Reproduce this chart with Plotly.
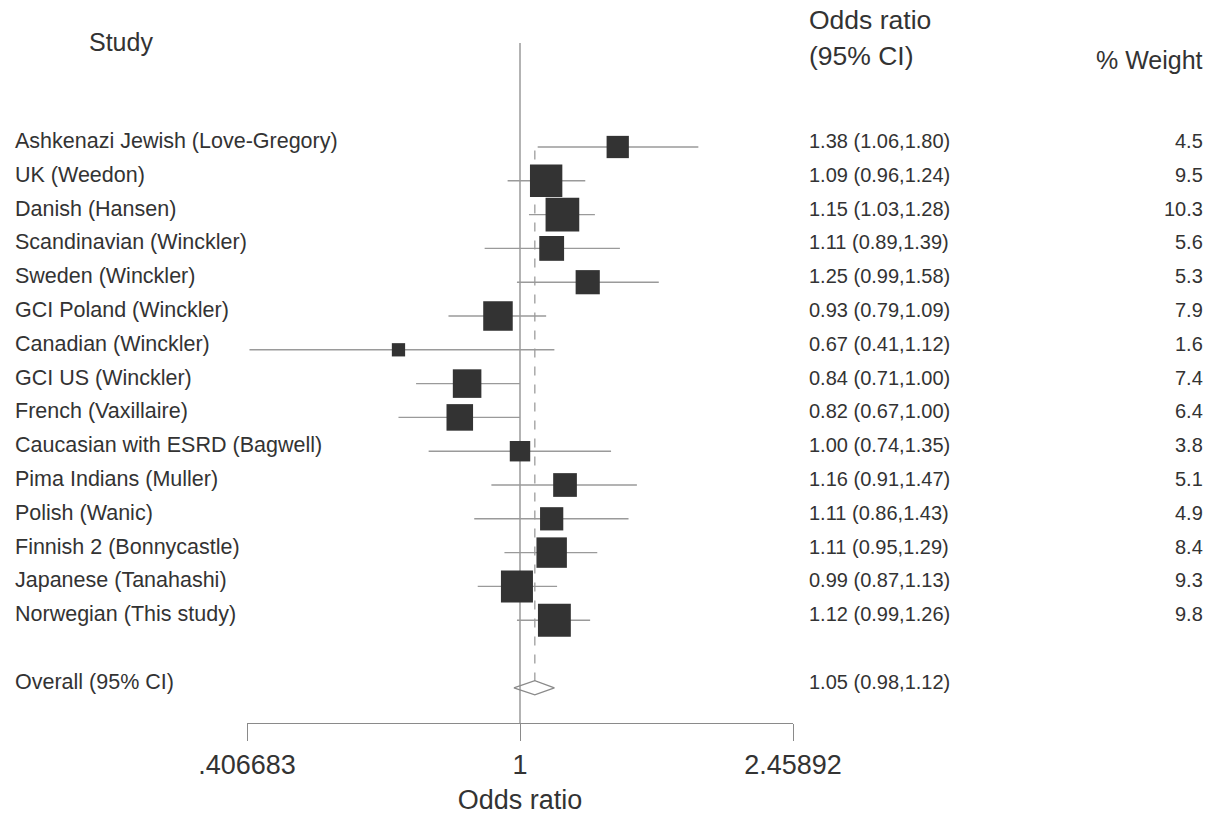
import math
import plotly.graph_objects as go

# ---------------- data ----------------
studies = [
    "Ashkenazi Jewish (Love-Gregory)", "UK (Weedon)", "Danish (Hansen)",
    "Scandinavian (Winckler)", "Sweden (Winckler)", "GCI Poland (Winckler)",
    "Canadian (Winckler)", "GCI US (Winckler)", "French (Vaxillaire)",
    "Caucasian with ESRD (Bagwell)", "Pima Indians (Muller)", "Polish (Wanic)",
    "Finnish 2 (Bonnycastle)", "Japanese (Tanahashi)", "Norwegian (This study)",
]
odds = [1.38, 1.09, 1.15, 1.11, 1.25, 0.93, 0.67, 0.84, 0.82, 1.00, 1.16, 1.11, 1.11, 0.99, 1.12]
ci_low = [1.06, 0.96, 1.03, 0.89, 0.99, 0.79, 0.41, 0.71, 0.67, 0.74, 0.91, 0.86, 0.95, 0.87, 0.99]
ci_high = [1.80, 1.24, 1.28, 1.39, 1.58, 1.09, 1.12, 1.00, 1.00, 1.35, 1.47, 1.43, 1.29, 1.13, 1.26]
weights = [4.5, 9.5, 10.3, 5.6, 5.3, 7.9, 1.6, 7.4, 6.4, 3.8, 5.1, 4.9, 8.4, 9.3, 9.8]
overall_label = "Overall (95% CI)"
overall = [1.05, 0.98, 1.12]  # estimate, low, high
x_min, x_max = 0.406683, 2.45892
tick_vals = [0.406683, 1, 2.45892]
tick_text = [".406683", "1", "2.45892"]

# ---------------- layout geometry ----------------
W, H = 1219, 815
PL, PR, PT, PB = 247, 793, 43, 723      # plot area pixels
ROW0, STEP = 147, 33.8                   # pixel y of row 1 and row spacing


def row_of(py):
    return 1 + (py - ROW0) / STEP


def px_x(px):
    return (px - PL) / (PR - PL)


def px_y(py):
    return (PB - py) / (PB - PT)


rows = list(range(1, len(studies) + 1))
overall_row = len(studies) + 2
y_top, y_bot = row_of(PT), row_of(PB)

FONT = "Liberation Sans, Arial, sans-serif"
TXT = "#333333"
GRAY = "#9a9a9a"

fig = go.Figure()

# reference line at 1
fig.add_trace(go.Scatter(x=[1, 1], y=[y_top, y_bot], mode="lines",
                         line=dict(color="#8a8a8a", width=1.3),
                         hoverinfo="skip", showlegend=False))
# dashed line at overall estimate
fig.add_trace(go.Scatter(x=[overall[0], overall[0]], y=[1.1, overall_row - 0.2],
                         mode="lines", line=dict(color="#aaaaaa", width=1.5, dash="dash"),
                         hoverinfo="skip", showlegend=False))

# confidence intervals
cx, cy = [], []
for r, lo, hi in zip(rows, ci_low, ci_high):
    cx += [lo, hi, None]
    cy += [r, r, None]
fig.add_trace(go.Scatter(x=cx, y=cy, mode="lines",
                         line=dict(color=GRAY, width=1.4),
                         hoverinfo="skip", showlegend=False))

# weighted squares
fig.add_trace(go.Scatter(x=odds, y=rows, mode="markers",
                         marker=dict(symbol="square", color="#333333", opacity=1,
                                     size=[10.5 * math.sqrt(w) for w in weights],
                                     line=dict(width=0)),
                         showlegend=False))

# overall diamond
dh = 0.21
fig.add_trace(go.Scatter(x=[overall[1], overall[0], overall[2], overall[0], overall[1]],
                         y=[overall_row, overall_row - dh, overall_row, overall_row + dh, overall_row],
                         mode="lines", line=dict(color="#8a8a8a", width=1.3),
                         hoverinfo="skip", showlegend=False))

ann = []


def add_text(text, px, r, anchor, size, yshift=0):
    ann.append(dict(text=text, x=px_x(px), xref="paper", y=r, yref="y",
                    xanchor=anchor, yanchor="middle", showarrow=False,
                    yshift=yshift, font=dict(family=FONT, size=size, color=TXT)))


def add_header(text, px, py, anchor, size):
    ann.append(dict(text=text, x=px_x(px), xref="paper", y=px_y(py), yref="paper",
                    xanchor=anchor, yanchor="middle", showarrow=False,
                    font=dict(family=FONT, size=size, color=TXT)))


for r, s, o, lo, hi, w in zip(rows, studies, odds, ci_low, ci_high, weights):
    add_text(s, 13, r, "left", 21.5, yshift=6)
    add_text(f"{o:.2f} ({lo:.2f},{hi:.2f})", 807, r, "left", 20, yshift=6)
    add_text(f"{w:.1f}", 1205, r, "right", 20, yshift=6)

add_text(overall_label, 13, overall_row, "left", 21.5, yshift=6)
add_text(f"{overall[0]:.2f} ({overall[1]:.2f},{overall[2]:.2f})", 807, overall_row, "left", 20, yshift=6)

# headers
add_header("Study", 121, 42, "center", 25)
add_header("Odds ratio", 807, 20, "left", 26.5)
add_header("(95% CI)", 807, 56, "left", 26.5)
add_header("% Weight", 1205, 60, "right", 25)

fig.update_layout(
    width=W, height=H,
    margin=dict(l=PL, r=W - PR, t=PT, b=H - PB, autoexpand=False),
    paper_bgcolor="white", plot_bgcolor="white",
    annotations=ann,
    xaxis=dict(type="log", range=[math.log10(x_min), math.log10(x_max)],
               tickmode="array", tickvals=tick_vals, ticktext=tick_text,
               showline=True, linecolor="#8a8a8a", linewidth=1.3,
               ticks="outside", ticklen=17, tickcolor="#8a8a8a", tickwidth=1.3,
               showgrid=False, zeroline=False,
               tickfont=dict(family=FONT, size=27, color=TXT),
               title=dict(text="Odds ratio", font=dict(family=FONT, size=27, color=TXT),
                          standoff=12),
               automargin=False, fixedrange=True),
    yaxis=dict(range=[y_bot, y_top], visible=False, showgrid=False,
               zeroline=False, fixedrange=True),
    font=dict(family=FONT, color=TXT),
)

fig.write_html("out.html", config={"displayModeBar": False},
               post_script="document.body.style.margin='0px';")
